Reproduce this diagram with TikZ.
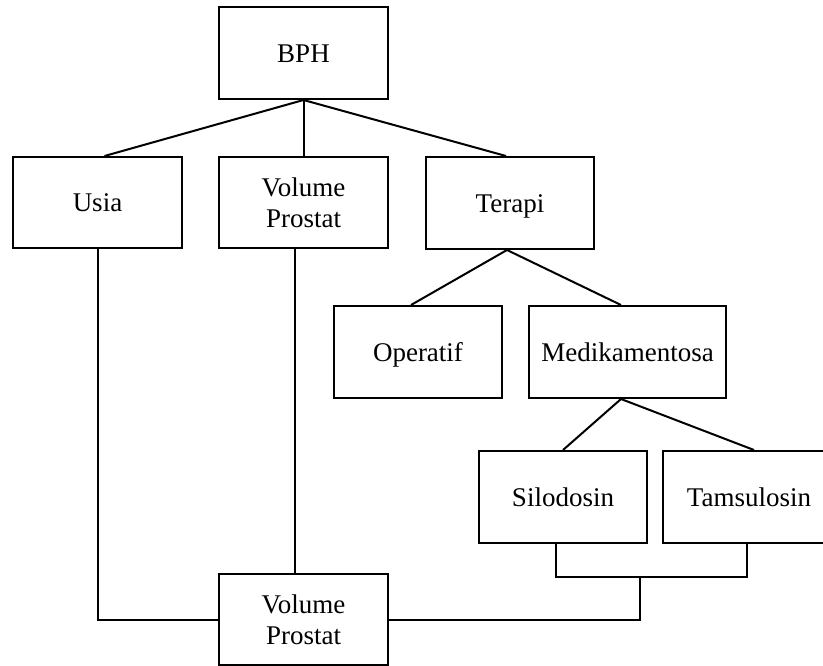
\documentclass[tikz,border=0pt]{standalone}
\usepackage{fontspec}
\setmainfont{Liberation Serif}
\usetikzlibrary{calc}

\begin{document}
\begin{tikzpicture}[x=1pt, y=-1pt,
  box/.style={draw, line width=2pt, minimum width=169pt, minimum height=91pt,
    inner sep=0pt, align=center, font=\fontsize{27}{31}\selectfont},
  oneline/.style={box, text height=18pt, text depth=0pt},
  link/.style={line width=2pt, line join=miter}]
  \useasboundingbox (0,0) rectangle (823,665);

  % hierarchy boxes
  \node[oneline, minimum height=92pt] (bph) at (303.5,53) {BPH};
  \node[oneline] (usia) at (97.5,202.5) {Usia};
  \node[box] (vp) at (303.5,202.5) {Volume\\Prostat};
  \node[oneline, minimum width=168pt, minimum height=92pt] (terapi) at (510,203) {Terapi};
  \node[oneline, minimum width=168pt, minimum height=92pt] (op) at (418,352) {Operatif};
  \node[oneline, minimum width=197pt, minimum height=92pt] (med) at (627.5,352) {Medikamentosa};
  \node[oneline, minimum width=168pt, minimum height=92pt] (sil) at (563,497) {Silodosin};
  \node[oneline, minimum width=172pt, minimum height=92pt] (tam) at (749,497) {Tamsulosin};
  \node[box] (vpb) at (303.5,619.5) {Volume\\Prostat};

  % tree branches
  \draw[link] (bph.south) -- ($(usia.north)+(7,0)$);
  \draw[link] (bph.south) -- (vp.north);
  \draw[link] (bph.south) -- ($(terapi.north)+(-4,0)$);

  \coordinate (tfoot) at ($(terapi.south)+(-3,0)$);
  \draw[link] (tfoot) -- ($(op.north)+(-7,0)$);
  \draw[link] (tfoot) -- ($(med.north)+(-6.5,0)$);

  \coordinate (mfoot) at ($(med.south)+(-6.5,0)$);
  \draw[link] (mfoot) -- (sil.north);
  \draw[link] (mfoot) -- ($(tam.north)+(5,0)$);

  % links into the bottom box
  \draw[link] (usia.south) |- (vpb.west);
  \coordinate (vfoot) at ($(vp.south)+(-8.5,0)$);
  \draw[link] (vfoot) -- (vfoot |- vpb.north);

  \coordinate (silfoot) at ($(sil.south)+(-7,0)$);
  \coordinate (tamfoot) at ($(tam.south)+(-2,0)$);
  \coordinate (bar) at (640,577);
  \draw[link] (silfoot) -- (silfoot |- bar) -- (tamfoot |- bar) -- (tamfoot);
  \draw[link] (bar) |- (vpb.east);
\end{tikzpicture}
\end{document}
